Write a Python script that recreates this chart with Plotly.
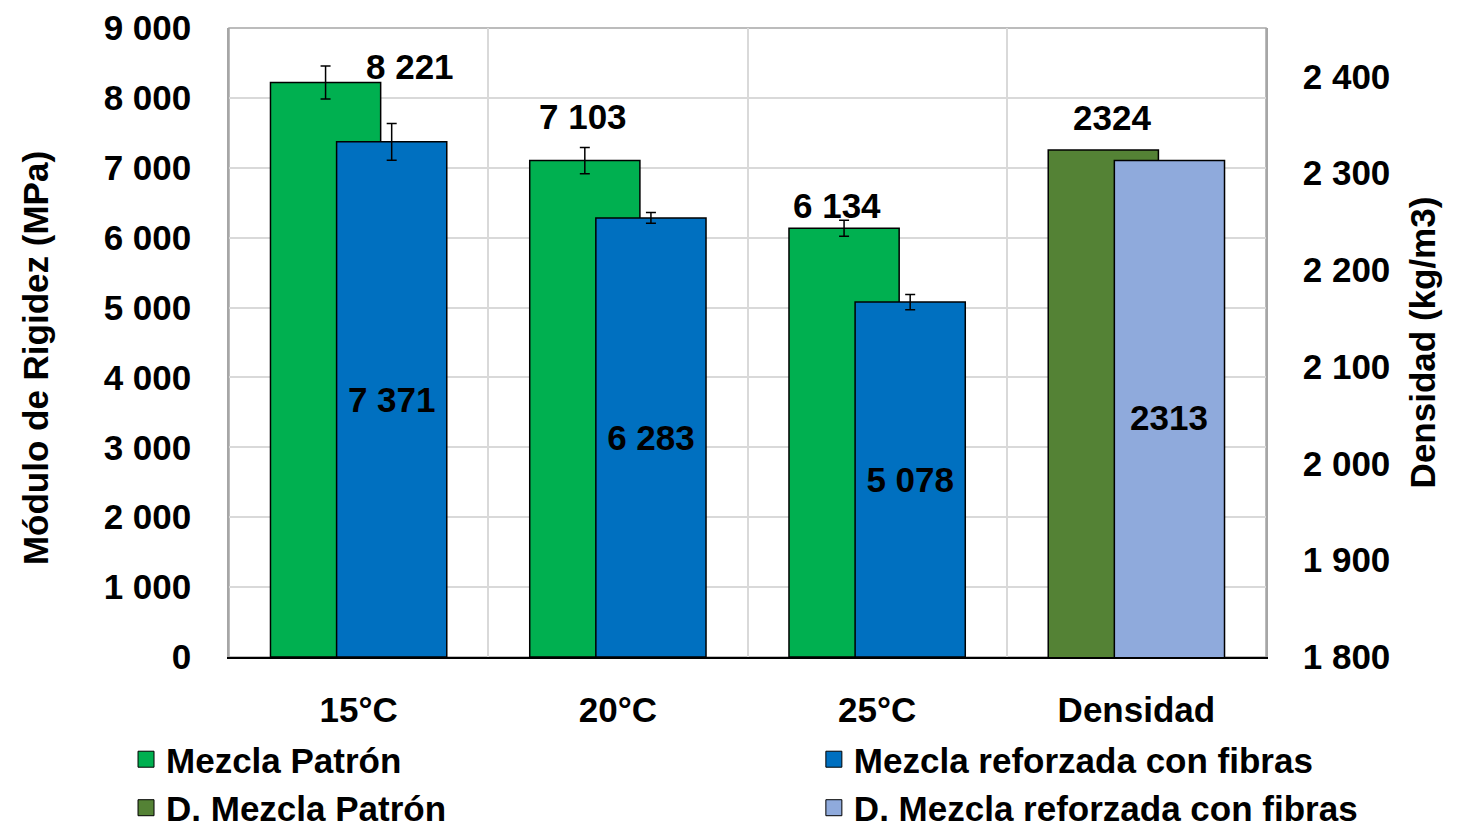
import plotly.graph_objects as go

categories = ["15°C", "20°C", "25°C"]
density_cat = ["Densidad"]
patron = [8221, 7103, 6134]
patron_err = [236, 188, 114]
fibras = [7371, 6283, 5078]
fibras_err = [262, 76, 109]
dens_patron = [2324]
dens_fibras = [2313]
left_ticks = list(range(0, 9001, 1000))
right_ticks = list(range(1800, 2401, 100))

FONT = "Liberation Sans Narrow, Arial Narrow, Liberation Sans, Arial, sans-serif"
FS = 35
TF = dict(family=FONT, size=FS, color="black", weight="bold")
C_PAT = "#00B050"
C_FIB = "#0070C0"
C_DPAT = "#548235"
C_DFIB = "#8FAADC"
W = 0.425
OFF_A = -0.34
OFF_B = -0.085
EDGE = dict(color="black", width=1.5)
Y2_RANGE = [1800, 2450]
CAT_PX = 1037 / 4  # pixel width of one category

def fmt(v):
    return f"{v:,}".replace(",", " ")

fig = go.Figure()
fig.add_trace(go.Bar(
    x=categories, y=patron, name="Mezcla Patrón", marker=dict(color=C_PAT, line=EDGE),
    width=W, offset=OFF_A, showlegend=False,
    error_y=dict(type="data", array=patron_err, color="black", thickness=1.5, width=5),
))
fig.add_trace(go.Bar(
    x=categories, y=fibras, name="Mezcla reforzada con fibras", marker=dict(color=C_FIB, line=EDGE),
    width=W, offset=OFF_B, showlegend=False,
    error_y=dict(type="data", array=fibras_err, color="black", thickness=1.5, width=5),
    text=[fmt(v) for v in fibras], textposition="inside", insidetextanchor="middle",
    textfont=TF, textangle=0,
))
fig.add_trace(go.Bar(
    x=density_cat, y=dens_patron, name="D. Mezcla Patrón", yaxis="y2",
    marker=dict(color=C_DPAT, line=EDGE), width=W, offset=OFF_A, showlegend=False,
))
fig.add_trace(go.Bar(
    x=density_cat, y=dens_fibras, name="D. Mezcla reforzada con fibras", yaxis="y2",
    marker=dict(color=C_DFIB, line=EDGE), width=W, offset=OFF_B, showlegend=False,
))

# legend entries (two columns)
legend_items = [
    ("Mezcla Patrón", C_PAT, "legend"),
    ("D. Mezcla Patrón", C_DPAT, "legend"),
    ("Mezcla reforzada con fibras", C_FIB, "legend2"),
    ("D. Mezcla reforzada con fibras", C_DFIB, "legend2"),
]
for name, col, lg in legend_items:
    fig.add_trace(go.Scatter(
        x=[None], y=[None], mode="markers", name=name, legend=lg,
        marker=dict(symbol="square", size=22, color=col, line=dict(color="black", width=1)),
    ))

# labels above the Mezcla Patrón bars
shifts = [(51, 16), (-35, 44), (-40, 23)]
for c, v, (dx, dy) in zip(categories, patron, shifts):
    fig.add_annotation(x=c, y=v, xref="x", yref="y", text=fmt(v), showarrow=False,
                       xshift=dx, yshift=dy, yanchor="middle", font=TF)
for c, v in zip(density_cat, dens_patron):
    fig.add_annotation(x=c, y=v, xref="x", yref="y2", text=str(v), showarrow=False,
                       xshift=-24, yshift=32, yanchor="middle", font=TF)
# label inside the visible part of the light-blue density bar
for c, v in zip(density_cat, dens_fibras):
    fig.add_annotation(x=c, y=(Y2_RANGE[0] + v) / 2, xref="x", yref="y2", text=str(v),
                       showarrow=False, xshift=(OFF_B + W / 2) * CAT_PX, yshift=-9,
                       yanchor="middle", font=TF)

# left axis title
fig.add_annotation(text="Módulo de Rigidez (MPa)", xref="paper", yref="paper",
                   x=-0.186, y=0.4754, xanchor="center", yanchor="middle",
                   textangle=-90, showarrow=False, font=TF)

# plot frame
fig.add_shape(type="rect", xref="paper", yref="paper", x0=0, x1=1, y0=0, y1=1,
              line=dict(color="#A6A6A6", width=1.5), layer="below")

legend_common = dict(
    orientation="v", xanchor="left", yanchor="top", y=-0.116,
    font=TF, itemsizing="trace", bgcolor="rgba(0,0,0,0)", tracegroupgap=0,
)

fig.update_layout(
    width=1457, height=820,
    margin=dict(l=221, r=199, t=20, b=171, autoexpand=False),
    plot_bgcolor="white", paper_bgcolor="white",
    barmode="overlay",
    font=TF,
    xaxis=dict(
        categoryorder="array", categoryarray=categories + density_cat,
        range=[-0.5, 3.5], tickson="boundaries", showgrid=True, gridcolor="#D9D9D9", gridwidth=1.5,
        showline=True, linecolor="black", linewidth=1.5, ticks="", ticklabelstandoff=21,
        tickfont=TF, automargin=False,
    ),
    yaxis=dict(
        range=[0, 9000], tickvals=left_ticks, ticktext=[fmt(v) for v in left_ticks],
        showgrid=True, gridcolor="#D9D9D9", gridwidth=1.5, zeroline=False,
        showline=True, linecolor="#A6A6A6", linewidth=1.5, ticks="", ticklabelstandoff=29,
        tickfont=TF, automargin=False,
    ),
    yaxis2=dict(
        overlaying="y", side="right", range=Y2_RANGE,
        tickvals=right_ticks, ticktext=[fmt(v) for v in right_ticks],
        showgrid=False, zeroline=False, showline=True, linecolor="#A6A6A6", linewidth=1.5,
        ticks="", ticklabelstandoff=28, tickfont=TF, automargin=False,
        title=dict(text="Densidad (kg/m3)", font=TF, standoff=21),
    ),
    legend=dict(x=-0.0993, **legend_common),
    legend2=dict(x=0.564, **legend_common),
    showlegend=True,
)

fig.write_html("out.html")
